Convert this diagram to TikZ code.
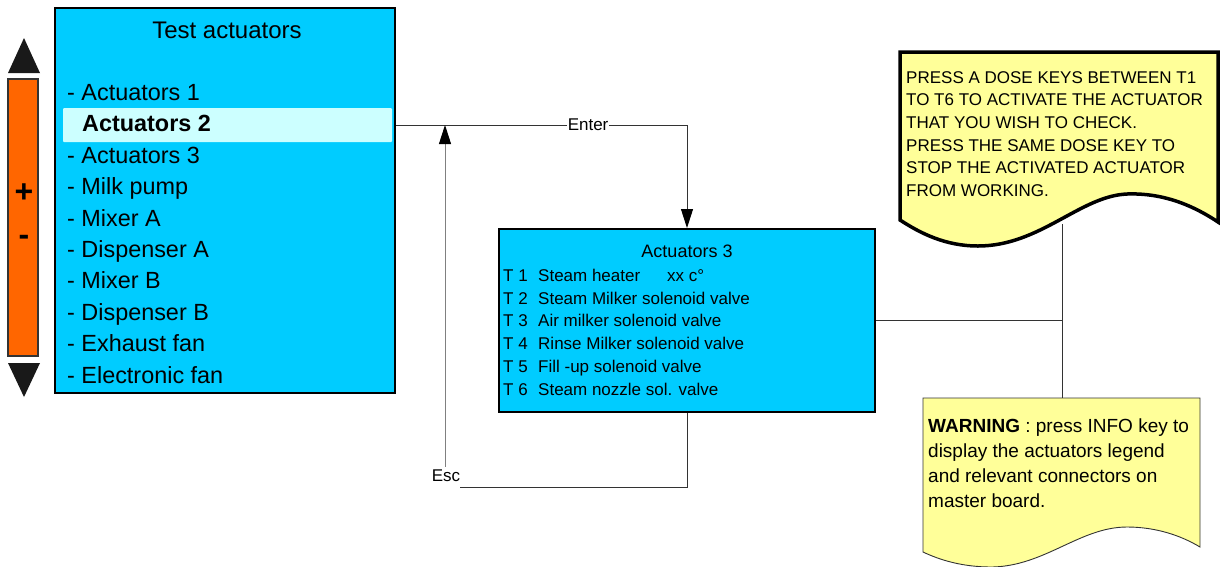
\documentclass[tikz,border=0pt]{standalone}
\usepackage{fontspec}
\setmainfont{Liberation Sans}
\usetikzlibrary{calc, arrows.meta}

\definecolor{lcdblue}{HTML}{00CCFF}
\definecolor{selblue}{HTML}{CCFFFF}
\definecolor{keyorange}{HTML}{FF6600}
\definecolor{memo}{HTML}{FFFF99}

\tikzset{
  fs/.style 2 args={font=\fontsize{#1}{#2}\selectfont},
  screen/.style={draw=black, line width=2pt, fill=lcdblue, inner sep=0pt},
  wire/.style={draw=black!80, line width=0.9pt},
  tip/.style={-{Triangle[length=19pt,width=12pt,color=black]}},
  item/.style={fs={23.4}{23.4}, anchor=base west, inner sep=0pt},
  row/.style={fs={17}{17}, anchor=base west, inner sep=0pt},
}

\begin{document}
\begin{tikzpicture}[x=1pt, y=-1pt]
    \useasboundingbox (0,0) rectangle (1220,566);

    % Scroll keys on the left
    \fill[black!90] (8,73) -- (40,73) -- (24,38) -- cycle;
    \fill[black!90] (8,363) -- (40,363) -- (24,397) -- cycle;
    \draw[fill=keyorange, draw=black!80, line width=2pt] (8,79) rectangle (38,356);
    \node[font=\fontsize{32}{32}\selectfont\bfseries] (plus) at (24,193) {+};
    \node[font=\fontsize{32}{32}\selectfont\bfseries] (minus) at (24,240) {-};

    % Main menu screen
    \node[screen, minimum width=340pt, minimum height=385pt] (menu) at (225,200.5) {};
    \node[fs={24}{24}] (title) at (227,30) {Test actuators};
    \node[fill=selblue, rounded corners=1pt, minimum width=329pt, minimum height=34pt,
          inner sep=0pt] (sel) at (227.5,125) {};
    \foreach \txt/\i in {Actuators 1/1, Actuators 3/3, Milk pump/4, Mixer A/5,
                         Dispenser A/6, Mixer B/7, Dispenser B/8, Exhaust fan/9,
                         Electronic fan/10}
        \node[item] (item\i) at (67,{69+31.4*\i}) {- \txt};
    \node[item, font=\fontsize{23.4}{23.4}\selectfont\bfseries] (item2) at (82,131.8) {Actuators 2};

    % Actuators 3 screen
    \node[screen, minimum width=376pt, minimum height=183pt] (act3) at (687,320.5) {};
    \node[fs={18}{18}] (act3title) at (687,251) {Actuators 3};
    \foreach \k/\txt in {1/Steam heater, 2/Steam Milker solenoid valve,
                         3/Air milker solenoid valve, 4/Rinse Milker solenoid valve,
                         5/Fill -up solenoid valve, 6/Steam nozzle sol. valve} {
        \node[row] (key\k) at (503,{258.4+22.8*\k}) {T \k};
        \node[row] (desc\k) at (538,{258.4+22.8*\k}) {\txt};
    }
    \node[row] (temp) at (667,281.2) {xx c°};

    % Enter / Esc
    \coordinate (split) at (445,125);
    \draw[wire, tip] (menu.east |- sel.east)
        -- node[pos=0.66, fill=white, inner sep=1pt, fs={17}{17}] (enter) {Enter}
        (sel.east -| act3.north) -- (act3.north);
    \node[fs={17}{17}] (esc) at (446,476) {Esc};
    \coordinate (escend) at (460,487);
    \draw[wire] (act3.south) |- (escend);
    \draw[wire, draw=black!50, tip] (esc.north -| split) -- (split);

    % Note with the dose keys
    \draw[fill=memo, line width=3.5pt] (900,52) -- (1218,52) -- (1218,222)
        .. controls (1185,200) and (1155,193) .. (1127,194)
        .. controls (1080,196) and (1040,246) .. (978,246)
        .. controls (945,246) and (920,233) .. (900,220) -- cycle;
    \node[fs={17}{22.7}, align=left, anchor=north west, inner sep=0pt] (dosenote) at (906,71)
        {PRESS A DOSE KEYS BETWEEN T1\\TO T6 TO ACTIVATE THE ACTUATOR\\THAT YOU WISH TO CHECK.\\
         PRESS THE SAME DOSE KEY TO\\STOP THE ACTIVATED ACTUATOR\\FROM WORKING.};

    % Warning note
    \draw[fill=memo, draw=black!80, line width=0.9pt] (923,398) -- (1200,398) -- (1200,547)
        .. controls (1180,535) and (1155,527) .. (1127,527)
        .. controls (1080,527) and (1045,566) .. (992,567)
        .. controls (962,567) and (940,560) .. (923,552) -- cycle;
    \node[fs={19}{25}, align=left, anchor=north west, inner sep=0pt] (warnnote) at (928,419)
        {\textbf{WARNING} : press INFO key to\\display the actuators legend\\
         and relevant connectors on\\master board.};

    % Links to the notes
    \coordinate (tapT) at (1062,224);
    \coordinate (tapB) at (1062,398);
    \draw[wire] (tapT) -- (tapB);
    \draw[wire] (act3.east) -- (act3.east -| tapT);

\end{tikzpicture}
\end{document}
